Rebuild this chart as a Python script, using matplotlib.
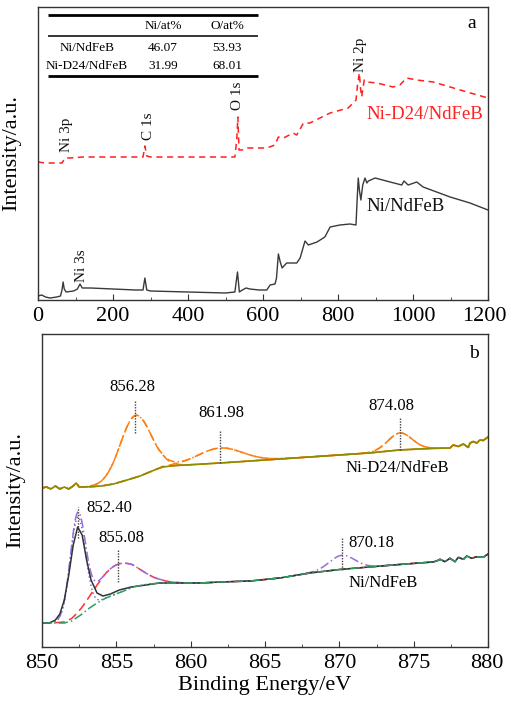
import numpy as np
import matplotlib
matplotlib.use("Agg")
import matplotlib.pyplot as plt
import matplotlib.transforms as mtransforms
from matplotlib.ticker import MultipleLocator

plt.rcParams['font.family'] = ['Liberation Serif', 'DejaVu Serif']
plt.rcParams['mathtext.fontset'] = 'stix'

# ---------------- Panel a: survey spectra ----------------
survey_ni_x = [0, 10, 20, 32, 50, 60, 64, 67, 70, 75, 95, 105, 112, 118, 140, 200, 260, 280,
               285, 290, 300, 400, 500, 525, 532, 537, 545, 555, 565, 590, 610, 619, 632, 636, 641,
               646, 651, 663, 690, 699, 712, 721, 744, 765, 779, 805, 832, 848, 851, 854, 857, 861,
               866, 872, 877, 881, 899, 939, 970, 976, 987, 1010, 1027, 1099, 1152, 1200]
survey_ni_y = [4, 5, 3, 2, 3, 4, 10, 18, 11, 8, 9, 11, 16, 12, 12, 11, 10, 10,
               22, 10, 9, 8, 7, 8, 28, 8, 10, 12, 11, 10, 10, 15, 16, 22, 46,
               38, 32, 37, 37, 42, 59, 55, 58, 63, 73, 75, 76, 75, 100, 122, 110, 100,
               115, 122, 117, 119, 122, 118, 115, 119, 115, 118, 113, 103, 97, 90]

survey_d24_x = [0, 20, 64, 72, 85, 120, 200, 280, 285, 290, 300, 400, 500, 525, 530, 533, 536,
                545, 555, 580, 610, 632, 641, 655, 680, 690, 708, 725, 779, 827, 848, 852,
                857, 860, 863, 870, 877, 904, 947, 965, 983, 1010, 1054, 1099, 1144, 1200]
survey_d24_y = [138, 137, 137, 142, 142, 143, 143, 143, 154, 144, 143, 143, 143, 143, 160, 183, 150,
                150, 152, 152, 152, 155, 163, 162, 167, 165, 177, 177, 187, 192, 200, 215,
                227, 212, 203, 220, 218, 217, 213, 215, 222, 220, 218, 213, 208, 202]

survey_peaks = ["Ni 3p", "C 1s", "O 1s", "Ni 2p", "Ni 3s"]
survey_peak_x = [76, 296, 532, 861, 116]
survey_peak_ybottom = [148, 160, 190, 228, 18]

table_cols = ["", "Ni/at%", "O/at%"]
table_rows = ["Ni/NdFeB", "Ni-D24/NdFeB"]
table_ni = ["46.07", "31.99"]
table_o = ["53.93", "68.01"]

# ---------------- Panel b: Ni 2p high resolution ----------------
# Ni-D24/NdFeB background (incl. noisy ends)
d24_bg_x = [850.0, 850.3, 850.6, 850.9, 851.2, 851.5, 851.8, 852.1, 852.3, 852.5, 853.0, 854.0,
            854.8, 855.5, 856.6, 857.4, 858.1, 859.0, 859.7, 862.0, 864.0, 866.0, 868.0, 870.0,
            872.0, 874.0, 876.0, 877.44, 877.67, 878.0, 878.34, 878.68, 878.79, 879.01, 879.24,
            879.46, 879.68, 880.0]
d24_bg_y = [159, 160, 158, 161, 158, 160, 158, 161, 164, 160, 160, 161,
            163, 166, 171, 176, 180, 181.5, 182, 184, 186, 188, 190, 192,
            194, 197, 198.5, 199, 202, 200.5, 203, 199.5, 204, 205.5, 204,
            207, 206.5, 210]
d24_centers = [856.28, 861.98, 874.08]
d24_heights = [62, 15, 17]
d24_fwhm = [2.4, 3.5, 1.9]

# Ni/NdFeB background (incl. noisy end)
ni_bg_x = [850.0, 851.0, 851.5, 852.0, 852.6, 853.2, 853.7, 854.3, 854.8, 855.5, 856.1, 857.0,
           857.9, 860.6, 862.0, 864.0, 866.0, 868.0, 870.0, 872.0, 874.0, 876.3, 876.55, 876.77,
           877.11, 877.44, 877.78, 878.0, 878.34, 878.57, 878.9, 879.24, 879.68, 880.0]
ni_bg_y = [24, 24, 24, 26, 32, 39, 44, 49, 52, 56, 60, 62.5,
           64, 64, 65, 66, 69, 74, 77.5, 80, 82.5, 85, 86, 87.7,
           85.3, 88.7, 85.3, 89.7, 87.7, 91, 88.7, 90.3, 89.7, 93]
# Ni/NdFeB measured spectrum around the metallic peak
ni_data_x = [850.0, 850.5, 850.9, 851.2, 851.5, 851.8, 852.1, 852.4, 852.7, 853.0, 853.3, 853.7,
             854.1, 854.6, 855.2, 856.0, 857.0, 857.9]
ni_data_y = [24, 24, 27, 33, 47, 72, 102, 120, 112, 87, 67, 54,
             51, 53, 57, 60, 62, 64]
ni_centers = [852.40, 855.08, 870.18]
ni_heights = [100, 29, 14]
ni_fwhm = [1.2, 3.3, 2.0]


def gauss(x, c, h, w):
    s = w / 2.3548
    return h * np.exp(-0.5 * ((x - c) / s) ** 2)


W, H = 508, 701
fig = plt.figure(figsize=(W / 100, H / 100), dpi=100)
axa = fig.add_axes([38 / W, 1 - 300 / H, 450 / W, 293 / H])
axb = fig.add_axes([42 / W, 1 - 647 / H, 446 / W, 313 / H])

spine_col = '#333333'
for ax in (axa, axb):
    for s in ax.spines.values():
        s.set_color(spine_col)
        s.set_linewidth(1.0)
    ax.tick_params(axis='x', which='both', direction='in', top=False, bottom=True,
                   labelsize=16, pad=5, color=spine_col)
    ax.tick_params(axis='x', which='major', length=4)
    ax.tick_params(axis='x', which='minor', length=2.2)
    ax.tick_params(axis='y', which='both', left=False, right=False, labelleft=False)

# ---- panel a ----
axa.plot(survey_ni_x, survey_ni_y, color='#3a3a3a', lw=1.0)
axa.plot(survey_d24_x, survey_d24_y, color='#ff2020', lw=1.1, ls=(0, (4, 3)))
axa.set_xlim(0, 1200)
axa.set_ylim(0, 293)
axa.xaxis.set_major_locator(MultipleLocator(200))
axa.xaxis.set_minor_locator(MultipleLocator(100))
axa.set_ylabel('Intensity/a.u.', fontsize=16)
axa.yaxis.set_label_coords(-0.038, 0.5)

for name, px, py in zip(survey_peaks, survey_peak_x, survey_peak_ybottom):
    axa.text(px, py, name, rotation=90, ha='center', va='bottom', fontsize=11, color='#111111')

axa.text(877, 185, 'Ni-D24/NdFeB', color='#ff2020', fontsize=13.5, ha='left', va='center')
axa.text(877, 93, 'Ni/NdFeB', color='#111111', fontsize=13.5, ha='left', va='center')
axa.text(1157, 276, 'a', fontsize=14, ha='center', va='center')

# table
tr = axa.transAxes
x0, x1 = 0.022, 0.489
axa.plot([x0, x1], [0.973, 0.973], transform=tr, color='black', lw=2.0, solid_capstyle='butt')
axa.plot([x0, x1], [0.901, 0.901], transform=tr, color='black', lw=1.1, solid_capstyle='butt')
axa.plot([x0, x1], [0.765, 0.765], transform=tr, color='black', lw=2.0, solid_capstyle='butt')
col_x = [0.109, 0.278, 0.42]
row_y = [0.860, 0.799]
for cx, lab in zip(col_x, table_cols):
    axa.text(cx, 0.934, lab, transform=tr, ha='center', va='center', fontsize=9.5)
for ry, r, a1, a2 in zip(row_y, table_rows, table_ni, table_o):
    axa.text(col_x[0], ry, r, transform=tr, ha='center', va='center', fontsize=9.5)
    axa.text(col_x[1], ry, a1, transform=tr, ha='center', va='center', fontsize=9.5)
    axa.text(col_x[2], ry, a2, transform=tr, ha='center', va='center', fontsize=9.5)

# ---- panel b ----
xf = np.linspace(850, 880, 1201)

# upper: Ni-D24/NdFeB
bg_u = np.interp(xf, d24_bg_x, d24_bg_y)
env_u = bg_u.copy()
for c, h, w in zip(d24_centers, d24_heights, d24_fwhm):
    comp = gauss(xf, c, h, w)
    env_u += comp
    axb.plot(xf, bg_u + comp, color='#ff7f0e', lw=1.1, ls=(0, (6, 3)))
axb.plot(xf, env_u, color='#ff7f0e', lw=1.1, ls=(0, (5, 2, 1, 2)))
axb.plot(d24_bg_x, d24_bg_y, color='#8c8c00', lw=1.2)

# lower: Ni/NdFeB
bg_l = np.interp(xf, ni_bg_x, ni_bg_y)
env_l = bg_l.copy()
comps_l = [gauss(xf, c, h, w) for c, h, w in zip(ni_centers, ni_heights, ni_fwhm)]
for comp in comps_l:
    env_l += comp
axb.plot(xf, bg_l + comps_l[0], color='#4a6fd0', lw=1.0, ls=(0, (1, 2)))
axb.plot(xf, bg_l + comps_l[1], color='#ff3030', lw=1.1, ls=(0, (6, 3)))
axb.plot(xf, env_l, color='#9b6be0', lw=1.1, ls=(0, (6, 2, 1, 2)))
axb.plot(ni_data_x + ni_bg_x[13:], ni_data_y + ni_bg_y[13:], color='#333333', lw=1.1)
axb.plot(ni_bg_x, ni_bg_y, color='#2e9e5e', lw=1.1, ls=(0, (6, 2, 1, 2)))

# peak markers
mark_x = [856.28, 861.98, 874.08, 852.40, 855.08, 870.18]
mark_y0 = [214, 184, 197, 109, 65, 77]
mark_y1 = [247, 217, 229, 140, 97, 110]
axb.vlines(mark_x, mark_y0, mark_y1, colors='#444444', linestyles=(0, (1, 1)), lw=1.0)

axb.text(856.1, 260, '856.28', fontsize=12, ha='center', va='center')
axb.text(862.09, 234, '861.98', fontsize=12, ha='center', va='center')
axb.text(873.52, 241, '874.08', fontsize=12, ha='center', va='center')
axb.text(873.91, 179, 'Ni-D24/NdFeB', fontsize=12, ha='center', va='center')
axb.text(853.0, 139, '852.40', fontsize=12, ha='left', va='center')
axb.text(855.35, 109, '855.08', fontsize=12, ha='center', va='center')
axb.text(870.58, 104, '870.18', fontsize=12, ha='left', va='center')
axb.text(872.94, 64, 'Ni/NdFeB', fontsize=12, ha='center', va='center')
axb.text(879.06, 293, 'b', fontsize=14, ha='center', va='center')

axb.set_xlim(850, 880)
axb.set_ylim(0, 313)
axb.xaxis.set_major_locator(MultipleLocator(5))
axb.xaxis.set_minor_locator(MultipleLocator(2.5))
axb.set_ylabel('Intensity/a.u.', fontsize=16)
axb.yaxis.set_label_coords(-0.038, 0.5)
axb.set_xlabel('Binding Energy/eV', fontsize=16, labelpad=2)

# nudge the right-most tick labels left so they stay inside the canvas (as in the reference)
fig.canvas.draw()
for ax in (axa, axb):
    last = ax.xaxis.get_major_ticks()[-1].label1
    if last.get_text():
        pass
for ax, dx in ((axa, -3.5), (axb, -1.0)):
    ticks = ax.xaxis.get_major_ticks()
    vis = [t for t in ticks if ax.get_xlim()[0] - 1e-9 <= t.get_loc() <= ax.get_xlim()[1] + 1e-9]
    lab = vis[-1].label1
    off = mtransforms.ScaledTranslation(dx / 100, 0, fig.dpi_scale_trans)
    lab.set_transform(lab.get_transform() + off)

fig.savefig('out.png', dpi=100)
